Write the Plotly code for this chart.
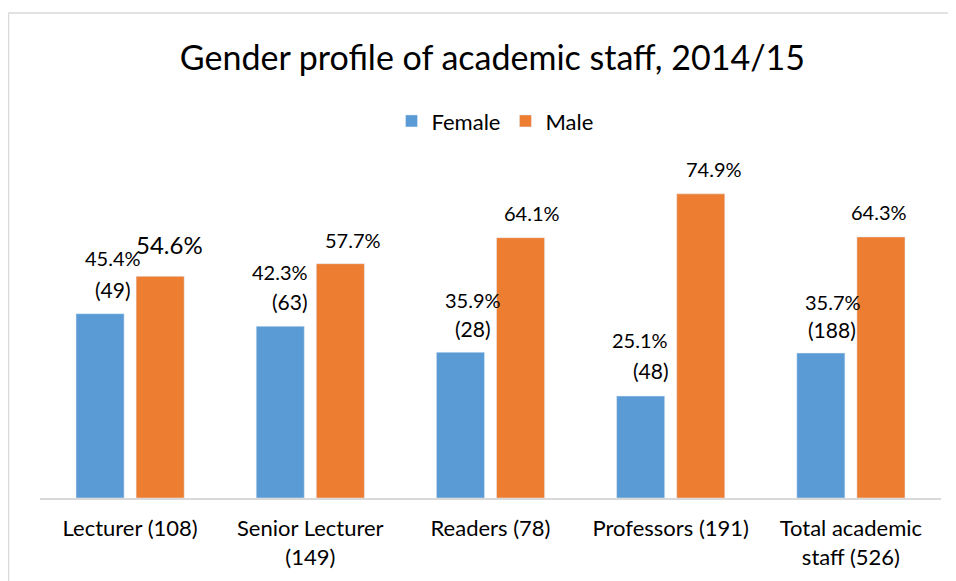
import plotly.graph_objects as go

categories = [
    "Lecturer (108)",
    "Senior Lecturer<br>(149)",
    "Readers (78)",
    "Professors (191)",
    "Total academic<br>staff (526)",
]
female_pct = [45.4, 42.3, 35.9, 25.1, 35.7]
male_pct = [54.6, 57.7, 64.1, 74.9, 64.3]
female_count = [49, 63, 28, 48, 188]

BLUE = "#5B9BD5"
ORANGE = "#ED7D31"
FONT = "Lato"

# label nudges (pixels) copied from the hand-placed labels in the original
fem_pct_shift = [(-17, 56), (-30, 54), (-18, 52), (-31, 56), (-18, 51)]
fem_cnt_shift = [(-17, 24), (-20, 25), (-18, 24), (-20, 26), (-19, 24)]
male_shift = [(39, 32), (43, 24), (41, 25), (43, 25), (28, 25)]
male_size = [24, 20, 20, 20, 20]

fig = go.Figure()
fig.add_trace(go.Bar(name="Female", x=categories, y=female_pct, marker_color=BLUE))
fig.add_trace(go.Bar(name="Male", x=categories, y=male_pct, marker_color=ORANGE))

annotations = []
for i, cat in enumerate(categories):
    dx, dy = fem_pct_shift[i]
    annotations.append(dict(x=cat, y=female_pct[i], text=f"{female_pct[i]:.1f}%",
                            xshift=dx, yshift=dy, showarrow=False,
                            font=dict(size=20)))
    dx, dy = fem_cnt_shift[i]
    annotations.append(dict(x=cat, y=female_pct[i], text=f"({female_count[i]})",
                            xshift=dx, yshift=dy, showarrow=False,
                            font=dict(size=21)))
    dx, dy = male_shift[i]
    annotations.append(dict(x=cat, y=male_pct[i], text=f"{male_pct[i]:.1f}%",
                            xshift=dx, yshift=dy, showarrow=False,
                            font=dict(size=male_size[i])))

# light grey chart border (top and left edges visible in the original)
shapes = [
    dict(type="line", xref="paper", yref="paper", x0=-0.035, x1=1.06, y0=1.394, y1=1.394,
         line=dict(color="#D9D9D9", width=1.5)),
    dict(type="line", xref="paper", yref="paper", x0=-0.035, x1=-0.035, y0=1.394, y1=-0.3,
         line=dict(color="#D9D9D9", width=1.5)),
]

# page body has an 8px margin, so the figure is sized/placed to compensate
fig.update_layout(
    width=948,
    height=573,
    margin=dict(l=32, r=15, t=142, b=83),
    paper_bgcolor="white",
    plot_bgcolor="white",
    font=dict(family=FONT, color="black", size=20),
    title=dict(text="Gender profile of academic staff, 2014/15", x=0.511, y=1 - 50 / 573,
               xanchor="center", yanchor="middle", font=dict(size=34)),
    barmode="group",
    bargap=0.333,
    bargroupgap=0.2,
    legend=dict(orientation="h", x=0.505, y=1.083, xanchor="center", yanchor="middle",
                font=dict(size=22)),
    xaxis=dict(showline=True, linecolor="#D9D9D9", linewidth=1.5, ticks="",
               tickfont=dict(size=22), ticklabelstandoff=10),
    yaxis=dict(range=[0, 85.7], visible=False, showgrid=False),
    annotations=annotations,
    shapes=shapes,
)

fig.write_html("out.html")
